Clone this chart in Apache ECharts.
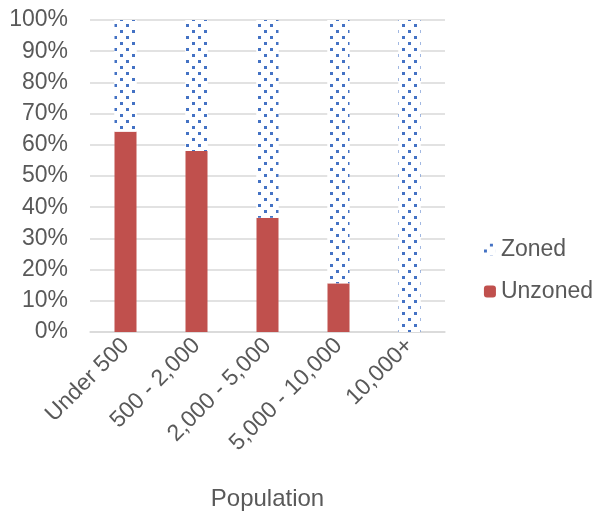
<!DOCTYPE html>
<html><head><meta charset="utf-8">
<script src="https://cdn.jsdelivr.net/npm/echarts@6/dist/echarts.min.js"></script>
<style>html,body{margin:0;padding:0;background:#fff}#c{width:598px;height:516px}</style>
</head><body><div id="c"></div>
<script>
var categories = ['Under 500', '500 - 2,000', '2,000 - 5,000', '5,000 - 10,000', '10,000+'];
var unzoned = [64.3, 58.0, 36.6, 15.6, 0];
var zoned = [35.7, 42.0, 63.4, 84.4, 100];
var yTicks = [0, 10, 20, 30, 40, 50, 60, 70, 80, 90, 100];

var chart = echarts.init(document.getElementById('c'));
var dotDecal = {
  symbol: 'rect',
  symbolSize: 1,
  color: '#4472C4',
  backgroundColor: '#ffffff',
  dashArrayX: [[2.5, 8.5], [0, 5.5, 2.5, 3]],
  dashArrayY: [2.5, 3],
  rotation: 0
};
chart.setOption({
  animation: false,
  textStyle: { fontFamily: 'Liberation Sans, Arial, sans-serif' },
  grid: { left: 90, right: 153, top: 20, bottom: 182, containLabel: false },
  legend: {
    orient: 'vertical',
    right: 0,
    top: 233,
    itemGap: 19,
    itemWidth: 12,
    itemHeight: 12,
    textStyle: { color: '#595959', fontSize: 23 },
    data: ['Zoned', 'Unzoned']
  },
  xAxis: {
    type: 'category',
    data: categories,
    name: 'Population',
    nameLocation: 'middle',
    nameGap: 155,
    nameTextStyle: { color: '#595959', fontSize: 24 },
    axisLine: { show: true, lineStyle: { color: '#d9d9d9', width: 1.5 } },
    axisTick: { show: false },
    axisLabel: { rotate: 45, color: '#595959', fontSize: 23, margin: 10, interval: 0 }
  },
  yAxis: {
    type: 'value',
    min: 0, max: 100, interval: 10,
    axisLine: { show: false },
    axisTick: { show: false },
    splitLine: { lineStyle: { color: '#d9d9d9', width: 1.5 } },
    axisLabel: { color: '#595959', fontSize: 23, margin: 22, formatter: function (v) { return v + '%'; } }
  },
  series: [
    {
      name: 'Unzoned', type: 'bar', stack: 'total', barWidth: 22,
      itemStyle: { color: '#C0504D' },
      data: unzoned
    },
    {
      name: 'Zoned', type: 'bar', stack: 'total', barWidth: 22,
      itemStyle: { color: '#ffffff', decal: dotDecal },
      data: zoned
    }
  ]
});
</script></body></html>
